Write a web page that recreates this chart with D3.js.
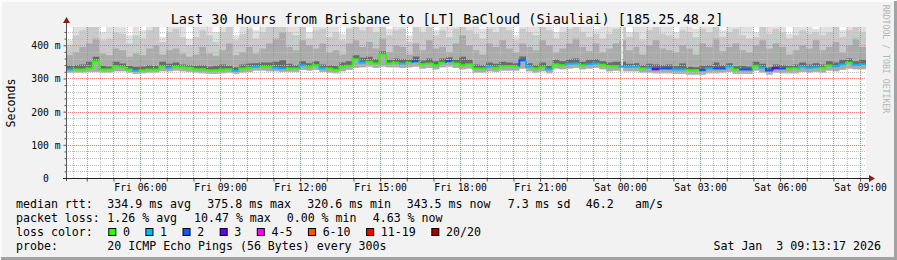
<!DOCTYPE html>
<html>
<head>
<meta charset="utf-8">
<script src="https://cdn.jsdelivr.net/npm/d3@7"></script>
<style>
  body { margin: 0; background: #f2f2f2; }
  svg { display: block; font-family: "DejaVu Sans Mono", monospace; }
  text { white-space: pre; }
</style>
</head>
<body>
<svg id="chart" width="897" height="260"></svg>
<script>
const title = "Last 30 Hours from Brisbane to [LT] BaCloud (Siauliai) [185.25.48.2]";
const startTime = "2026-01-02T03:13:17";
const endTime = "2026-01-03T09:13:17";
const binMinutes = 15;

const yTicks = [0, 100, 200, 300, 400];
const yTickLabels = ["0  ", "100 m", "200 m", "300 m", "400 m"];
const xTickTimes = ["2026-01-02T06:00", "2026-01-02T09:00", "2026-01-02T12:00", "2026-01-02T15:00",
  "2026-01-02T18:00", "2026-01-02T21:00", "2026-01-03T00:00", "2026-01-03T03:00",
  "2026-01-03T06:00", "2026-01-03T09:00"];
const xTickLabels = ["Fri 06:00", "Fri 09:00", "Fri 12:00", "Fri 15:00", "Fri 18:00", "Fri 21:00",
  "Sat 00:00", "Sat 03:00", "Sat 06:00", "Sat 09:00"];

// median rtt per 15 min bin (ms)
const median = [
  327,327,327,330,352,327,327,337,334,327,
  323,325,327,327,335,332,335,334,332,328,
  328,325,325,327,328,323,330,332,335,335,
  335,332,330,330,330,340,335,340,331,330,
  326,335,338,358,348,350,345,372,345,347,
  345,347,352,343,345,340,347,352,345,340,
  343,330,330,335,332,337,337,336,355,335,
  330,334,328,343,340,344,345,340,343,345,
  341,336,337,335,335,335,330,332,328,330,
  330,327,327,325,325,325,330,330,330,335,
  327,327,327,338,332,324,331,330,330,330,
  335,332,334,332,339,337,342,347,341,343
];
// lost pings (of 20) per bin
const loss = [
  1,0,0,0,0,0,0,0,0,0,
  1,0,0,0,0,1,0,0,0,0,
  0,0,0,0,0,1,0,0,1,0,
  0,1,1,0,0,1,0,0,1,0,
  0,0,0,0,1,0,0,0,0,0,
  1,0,2,0,0,0,0,2,0,0,
  0,0,0,1,0,0,0,0,2,1,
  0,0,1,0,0,1,1,0,1,1,
  0,0,0,1,1,1,0,1,3,2,
  2,1,1,0,0,2,1,2,2,1,
  0,2,2,0,1,2,3,2,0,0,
  1,1,1,0,0,1,1,0,1,1
];
// smoke: slowest ping per bin
const pingMax = [
  415,460,460,460,460,440,460,460,460,430,
  460,445,460,460,425,460,460,460,420,460,
  460,460,440,460,460,430,460,460,445,460,
  460,460,460,460,460,460,440,460,460,460,
  460,435,460,460,460,460,460,460,450,460,
  460,430,460,460,460,445,460,460,460,460,
  460,460,450,460,460,460,460,430,460,460,
  460,460,460,440,460,460,460,460,460,450,
  460,460,460,460,440,460,460,460,460,460,
  460,440,460,460,450,460,460,460,445,460,
  460,460,460,440,460,460,460,460,435,460,
  460,460,450,460,460,460,445,460,460,460
];
// smoke: upper edge of the light-mid band
const pingUpper = [
  400,430,445,460,460,415,420,440,435,405,
  430,420,445,455,410,440,450,425,400,425,
  445,430,410,440,455,415,435,450,420,440,
  455,460,460,440,430,455,420,445,450,425,
  440,415,450,460,445,455,440,460,430,445,
  450,410,455,440,460,430,445,425,450,460,
  445,435,420,450,440,460,445,415,450,440,
  430,455,445,420,440,450,460,440,425,435,
  420,435,450,460,425,440,415,445,455,435,
  430,420,445,440,425,450,440,460,425,440,
  450,430,420,425,455,435,450,440,420,430,
  445,435,440,430,440,455,425,445,460,440
];
// smoke: upper edge of the mid band
const pingMid = [
  370,380,395,405,420,375,370,390,385,365,
  375,370,390,400,372,385,390,375,365,372,
  395,375,368,385,405,370,380,395,375,390,
  405,420,440,395,385,415,400,390,405,378,
  385,372,405,415,395,410,390,420,380,400,
  395,372,405,385,415,390,395,380,405,430,
  400,385,372,405,395,415,390,378,405,395,
  385,415,400,378,390,405,420,395,382,405,
  378,390,405,415,385,395,372,400,415,390,
  385,378,400,390,372,405,395,420,382,395,
  405,385,378,400,415,390,405,395,372,385,
  400,390,415,385,395,410,378,400,420,395
];
// smoke: upper edge of the dark band around the median
const pingInner = [
  338,340,342,350,365,338,336,350,345,338,
  335,336,340,338,350,344,348,342,340,338,
  340,336,338,342,338,334,342,345,346,348,
  348,350,355,344,340,352,346,352,342,340,
  338,348,352,370,362,365,358,382,356,360,
  358,356,366,354,360,352,360,364,356,365,
  356,342,340,348,344,350,348,346,366,346,
  340,348,338,356,352,358,360,350,356,358,
  352,348,350,350,344,346,340,344,342,340,
  342,337,345,335,334,338,340,348,340,346,
  337,338,336,350,344,334,342,340,338,342,
  348,342,346,342,352,348,356,360,352,356
];
// smoke: fastest ping per bin
const pingMin = [
  318,318,318,320,320,318,318,322,322,318,
  314,316,318,318,322,322,324,322,320,318,
  316,314,314,316,318,314,318,320,324,324,
  322,322,320,320,320,326,324,326,320,318,
  316,322,326,332,334,336,332,336,334,334,
  332,334,336,330,332,328,334,336,332,328,
  330,318,318,322,320,324,324,324,330,322,
  318,322,316,330,328,330,332,328,330,332,
  328,322,324,322,322,322,318,318,316,316,
  316,314,314,312,312,312,316,316,318,320,
  314,314,314,324,318,312,318,316,316,316,
  320,318,320,318,324,322,326,330,328,328
];
const gapTimes = ["2026-01-03T00:05"];

const lossLabels = ["0", "1", "2", "3", "4-5", "6-10", "11-19", "20/20"];
const lossColors = ["#26ff00", "#00b8ff", "#0059ff", "#5e00ff", "#ff00ff", "#ff5500", "#ff0000", "#a10000"];

const rttItems = ["median rtt:", "334.9 ms avg", "375.8 ms max", "320.6 ms min", "343.5 ms now", "7.3 ms sd", "46.2", "am/s"];
const lossItems = ["packet loss:", "1.26 % avg", "10.47 % max", "0.00 % min", "4.63 % now"];
const probeText = ["probe:", "20 ICMP Echo Pings (56 Bytes) every 300s"];
const stamp = "Sat Jan  3 09:13:17 2026";

const W = 897, H = 260;
const pLeft = 66, pRight = 866, pTop = 27, pBottom = 178;
const charW = 7.02;

const parse = d3.timeParse("%Y-%m-%dT%H:%M:%S");
const parseMin = d3.timeParse("%Y-%m-%dT%H:%M");
const t0 = parse(startTime), t1 = parse(endTime);

const x = d3.scaleTime([t0, t1], [pLeft, pRight]);
const y = d3.scaleLinear([0, 455], [pBottom, pTop]);

const svg = d3.select("#chart");

// canvas + 3d frame
svg.append("rect").attr("width", W).attr("height", H).attr("fill", "#f2f2f2");
svg.append("path").attr("d", `M1,${H - 1}V1H${W - 1}`).attr("stroke", "#fcfcfc").attr("stroke-width", 2).attr("fill", "none");
svg.append("path").attr("d", `M1,${H - 1.5}H${W - 1.5}V1`).attr("stroke", "#a3a3a3").attr("stroke-width", 3).attr("fill", "none");

svg.append("rect")
  .attr("x", pLeft).attr("y", pTop)
  .attr("width", pRight - pLeft).attr("height", pBottom - pTop)
  .attr("fill", "#ffffff");

svg.append("clipPath").attr("id", "plotClip")
  .append("rect").attr("x", pLeft).attr("y", pTop)
  .attr("width", pRight - pLeft).attr("height", pBottom - pTop);

// bins
const bins = median.map((m, i) => ({
  t: d3.timeMinute.offset(t0, i * binMinutes),
  med: m, loss: loss[i],
  lo: pingMin[i], hi: pingMax[i], up: pingUpper[i], mid: pingMid[i], inner: pingInner[i]
}));
const stepped = bins.concat([Object.assign({}, bins[bins.length - 1], { t: t1 })]);

const plot = svg.append("g").attr("clip-path", "url(#plotClip)");

const smokeBand = (lowKey, highKey) => d3.area()
  .curve(d3.curveStepAfter)
  .x(d => x(d.t))
  .y0(d => y(d[lowKey]))
  .y1(d => y(d[highKey]));

plot.append("path").datum(stepped).attr("fill", "#e0e0e0").attr("d", smokeBand("lo", "hi"));
plot.append("path").datum(stepped).attr("fill", "#cacaca").attr("d", smokeBand("lo", "up"));
plot.append("path").datum(stepped).attr("fill", "#ababab").attr("d", smokeBand("lo", "mid"));
plot.append("path").datum(stepped).attr("fill", "#6a6a6a").attr("d", smokeBand("med", "inner"));

plot.selectAll("rect.gap").data(gapTimes.map(parseMin)).enter().append("rect").attr("class", "gap")
  .attr("x", d => x(d) - 1).attr("width", 1.5)
  .attr("y", pTop).attr("height", pBottom - pTop)
  .attr("fill", "#ffffff");

// grid (drawn over the smoke, like rrdtool)
const hourMs = 3600e3;
const firstHour = new Date(t0);
firstHour.setMinutes(0, 0, 0);
firstHour.setHours(firstHour.getHours() + 1);
const majorX = d3.range(+firstHour, +t1, hourMs).map(ms => new Date(ms));
const minorX = d3.range(+firstHour - hourMs / 2, +t1, hourMs).map(ms => new Date(ms));
const minorY = d3.range(20, 455, 20).filter(v => v % 100 !== 0);
const majorY = d3.range(100, 455, 100);

function vLines(cls, data, color) {
  svg.selectAll("line." + cls).data(data).enter().append("line").attr("class", cls)
    .attr("x1", d => Math.round(x(d)) + 0.5).attr("x2", d => Math.round(x(d)) + 0.5)
    .attr("y1", pTop).attr("y2", pBottom)
    .attr("stroke", color).attr("stroke-width", 1).attr("stroke-dasharray", "1,1")
    .attr("shape-rendering", "crispEdges");
}
function hLines(cls, data, color) {
  svg.selectAll("line." + cls).data(data).enter().append("line").attr("class", cls)
    .attr("x1", pLeft).attr("x2", pRight)
    .attr("y1", d => Math.round(y(d)) + 0.5).attr("y2", d => Math.round(y(d)) + 0.5)
    .attr("stroke", color).attr("stroke-width", 1).attr("stroke-dasharray", "1,1")
    .attr("shape-rendering", "crispEdges");
}
vLines("vmin", minorX, "#bdbdbd");
hLines("hmin", minorY, "#bdbdbd");
vLines("vmaj", majorX, "#ea7a7a");
hLines("hmaj", majorY, "#ea7a7a");

// median line, coloured by loss
function lossIndex(n) {
  if (n <= 3) return n;
  if (n <= 5) return 4;
  if (n <= 10) return 5;
  if (n <= 19) return 6;
  return 7;
}
const medLine = d3.line().x(d => x(d.t)).y(d => y(d.v));
const medG = svg.append("g").attr("clip-path", "url(#plotClip)");
bins.forEach((b, i) => {
  const tEnd = i < bins.length - 1 ? bins[i + 1].t : t1;
  const pts = [];
  if (i > 0) pts.push({ t: b.t, v: bins[i - 1].med });
  pts.push({ t: b.t, v: b.med }, { t: tEnd, v: b.med });
  medG.append("path")
    .attr("d", medLine(pts))
    .attr("fill", "none")
    .attr("stroke", lossColors[lossIndex(b.loss)])
    .attr("stroke-width", 2);
});

// axes
const yAxis = d3.axisLeft(y).tickValues(yTicks).tickSize(3).tickPadding(3)
  .tickFormat((d, i) => yTickLabels[i]);
const gy = svg.append("g").attr("transform", `translate(${pLeft + 0.5},0)`).call(yAxis);
gy.select(".domain").remove();
gy.selectAll("line").attr("stroke", "#555");
gy.selectAll("text").attr("font-family", "DejaVu Sans Mono").attr("font-size", "9.7px").attr("fill", "#000").attr("x", -6).attr("dy", "0.35em");

const gyMinor = svg.append("g").attr("transform", `translate(${pLeft + 0.5},0)`)
  .call(d3.axisLeft(y).tickValues(minorY).tickSize(2).tickFormat(""));
gyMinor.select(".domain").remove();
gyMinor.selectAll("line").attr("stroke", "#555");

const gx = svg.append("g").attr("transform", `translate(0,${pBottom + 0.5})`)
  .call(d3.axisBottom(x).tickValues(majorX).tickSize(3).tickFormat(""));
gx.select(".domain").remove();
gx.selectAll("line").attr("stroke", "#555");

const gxl = svg.append("g").attr("transform", `translate(0,${pBottom + 0.5})`)
  .call(d3.axisBottom(x).tickValues(xTickTimes.map(parseMin)).tickSize(0)
    .tickFormat((d, i) => xTickLabels[i]));
gxl.select(".domain").remove();
gxl.selectAll("text").attr("font-family", "DejaVu Sans Mono").attr("font-size", "9.7px")
  .attr("fill", "#000").attr("y", 12.5).attr("dy", 0);

svg.append("line").attr("x1", pLeft + 0.5).attr("x2", pLeft + 0.5).attr("y1", pBottom + 3).attr("y2", pTop - 4)
  .attr("stroke", "#555");
svg.append("line").attr("x1", pLeft - 3).attr("x2", pRight + 3).attr("y1", pBottom + 0.5).attr("y2", pBottom + 0.5)
  .attr("stroke", "#222");
svg.append("path").attr("d", `M${pLeft - 3},${pTop - 4}L${pLeft + 4},${pTop - 4}L${pLeft + 0.5},${pTop - 10}Z`).attr("fill", "#8b1a1a");
svg.append("path").attr("d", `M${pRight + 3},${pBottom - 3}L${pRight + 3},${pBottom + 4}L${pRight + 9},${pBottom + 0.5}Z`).attr("fill", "#8b1a1a");

// titles
svg.append("text").attr("x", 447).attr("y", 23.5).attr("text-anchor", "middle")
  .attr("font-size", "13.5px").attr("fill", "#000").text(title);
svg.append("text").attr("transform", "translate(14.5,103) rotate(-90)").attr("text-anchor", "middle")
  .attr("font-size", "11.6px").attr("fill", "#000").text("Seconds");
svg.append("text").attr("transform", "translate(883,59) rotate(90)").attr("text-anchor", "middle")
  .attr("font-size", "8.2px").attr("fill", "#b4b4b4").text("RRDTOOL / TOBI OETIKER");

// legend
const legend = svg.append("g").attr("font-size", "11.6px").attr("fill", "#000");
const rttX = [16, 107.3, 207.3, 307.3, 406.7, 507.7, 585.7, 635];
legend.selectAll("text.rtt").data(rttItems).enter().append("text").attr("class", "rtt")
  .attr("x", (d, i) => rttX[i]).attr("y", 208).text(d => d);
const lossX = [16, 107.3, 194, 286.7, 372.7];
legend.selectAll("text.pl").data(lossItems).enter().append("text").attr("class", "pl")
  .attr("x", (d, i) => lossX[i]).attr("y", 222).text(d => d);

legend.append("text").attr("x", 16).attr("y", 236).text("loss color:");
// each entry: box, label, then a gap before the next box
const boxX = [];
lossLabels.reduce((pos, lbl) => { boxX.push(pos); return pos + 14.7 + lbl.length * charW + 15.4; }, 108.3);
const lc = legend.selectAll("g.lc").data(lossLabels).enter().append("g").attr("class", "lc")
  .attr("transform", (d, i) => `translate(${boxX[i]},0)`);
lc.append("rect").attr("x", 0.5).attr("y", 228.5).attr("width", 7).attr("height", 7)
  .attr("fill", (d, i) => lossColors[i]).attr("stroke", "#000");
lc.append("text").attr("x", 14.7).attr("y", 236).text(d => d);

legend.append("text").attr("x", 16).attr("y", 250).text(probeText[0]);
legend.append("text").attr("x", 107.3).attr("y", 250).text(probeText[1]);
legend.append("text").attr("x", 881).attr("y", 250).attr("text-anchor", "end").text(stamp);
</script>
</body>
</html>
